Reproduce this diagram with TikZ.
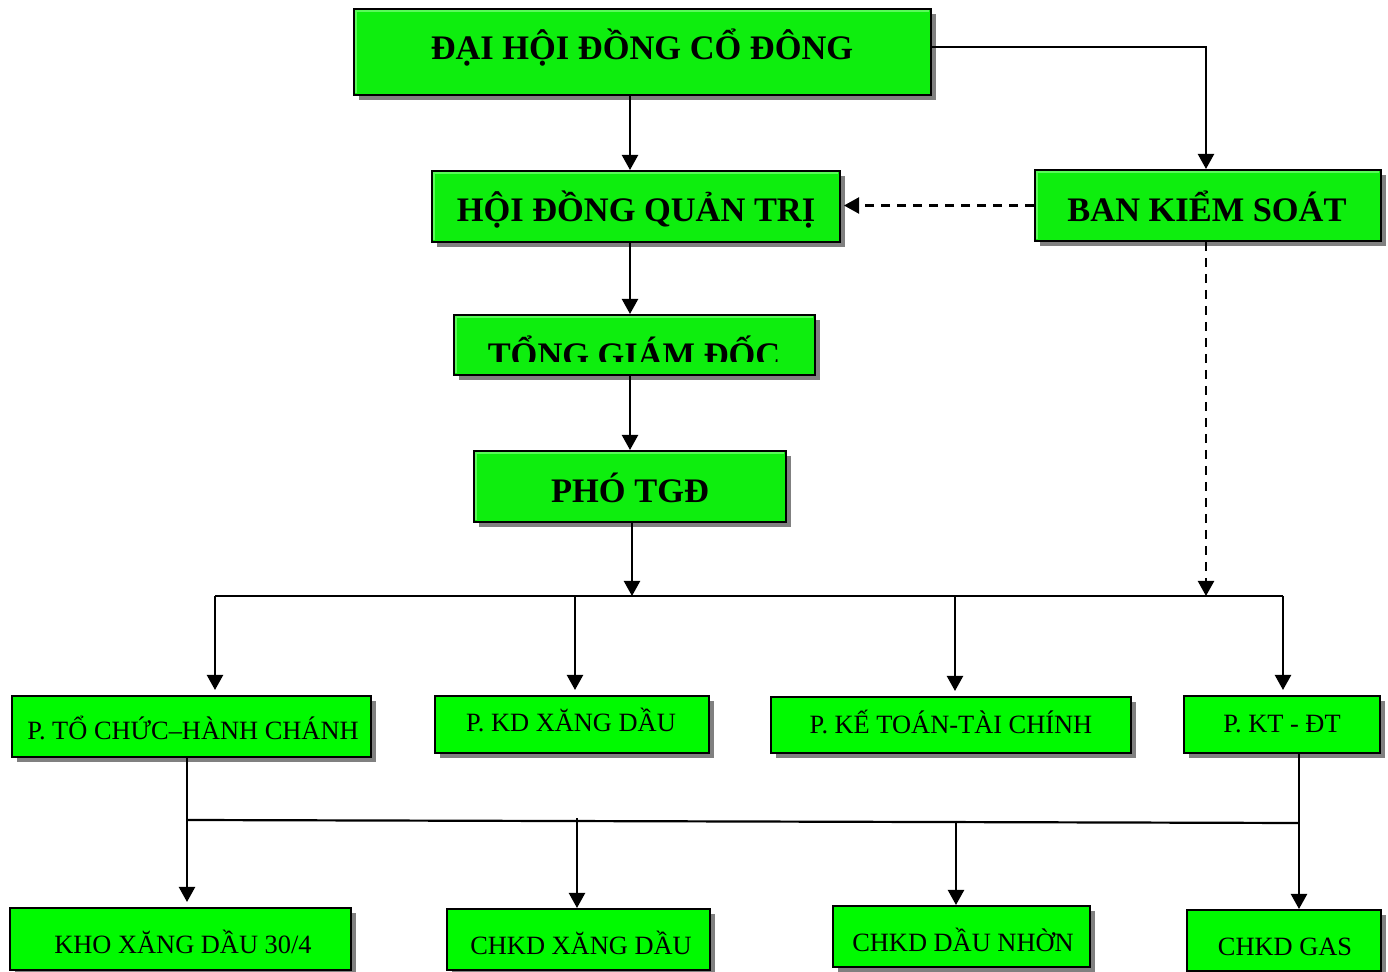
\documentclass[tikz,border=0pt]{standalone}
\usepackage{fontspec}
\setmainfont{Liberation Serif}
\usetikzlibrary{arrows.meta,shadows}
\definecolor{boxgreen}{RGB}{14,238,14}
\definecolor{boxgreenb}{RGB}{0,250,0}
\definecolor{bevel}{RGB}{90,250,90}
\definecolor{shadowgray}{RGB}{128,128,128}
\tikzset{
  box/.style={draw=black, line width=1pt, fill=boxgreen, inner sep=0pt,
    drop shadow={shadow xshift=2.6pt, shadow yshift=-2.6pt, fill=shadowgray, opacity=1}},
  boxb/.style={box, fill=boxgreenb},
  bigtxt/.style={font=\fontsize{17.2pt}{20pt}\selectfont\bfseries, anchor=base, inner sep=0pt},
  smalltxt/.style={font=\fontsize{13.2pt}{16pt}\selectfont, anchor=base, inner sep=0pt},
  conn/.style={line width=1.1pt},
  arr/.style={conn, -{Triangle[length=7.5pt,width=8pt]}},
  dashconn/.style={dash pattern=on 4.5pt off 3.5pt},
  gap/.style={shorten >=2.5pt}
}
\newcommand{\mkbox}[6]{%
  \node[#1, minimum width={#5*0.5pt}, minimum height={#6*0.5pt}] (#2) at (#3,#4) {};}
\begin{document}
\begin{tikzpicture}[x=0.5pt,y=-0.5pt]
\useasboundingbox (0,0) rectangle (1388,972);
% boxes
\mkbox{box}{dh}{642.5}{52}{577}{86}
\mkbox{box}{hq}{636}{206.5}{408}{71}
\mkbox{box}{bks}{1208}{205.5}{346}{71}
\mkbox{box}{tgd}{634.5}{345}{361}{60}
\mkbox{box}{pho}{630}{486.5}{312}{71}
\mkbox{boxb}{tc}{191.5}{726.5}{359}{61}
\mkbox{boxb}{kd}{572}{724.5}{274}{57}
\mkbox{boxb}{kt}{951}{725}{360}{56}
\mkbox{boxb}{dt}{1282}{724.5}{196}{57}
\mkbox{boxb}{kho}{180.5}{939}{341}{62}
\mkbox{boxb}{xd}{578.5}{939.5}{263}{61}
\mkbox{boxb}{dn}{961.5}{936.5}{257}{61}
\mkbox{boxb}{gas}{1284}{940.5}{194}{61}
% bevels on upper boxes
\foreach \b in {dh,hq,bks,tgd,pho}{
  \draw[bevel, line width=1pt] ([shift={(3,-3)}]\b.south west) -- ([shift={(3,3)}]\b.north west) -- ([shift={(-3,3)}]\b.north east);
}
% texts
\node[bigtxt] (t1) at (642,60) {ĐẠI HỘI ĐỒNG CỔ ĐÔNG};
\node[bigtxt] (t2) at (636,222) {HỘI ĐỒNG QUẢN TRỊ};
\node[bigtxt] (t3) at (1207,222) {BAN KIỂM SOÁT};
\begin{scope}
  \clip (456,317) rectangle (813,362);
  \node[bigtxt] (t4) at (634,367) {TỔNG GIÁM ĐỐC};
\end{scope}
\node[bigtxt] (t5) at (630,503) {PHÓ TGĐ};
\node[smalltxt] (t6) at (193,740) {P. TỔ CHỨC–HÀNH CHÁNH};
\node[smalltxt] (t7) at (571,732) {P. KD XĂNG DẦU};
\node[smalltxt] (t8) at (951,734) {P. KẾ TOÁN-TÀI CHÍNH};
\node[smalltxt] (t9) at (1282,733) {P. KT - ĐT};
\node[smalltxt] (t10) at (183,953) {KHO XĂNG DẦU 30/4};
\node[smalltxt] (t11) at (581,954) {CHKD XĂNG DẦU};
\node[smalltxt] (t12) at (963,951) {CHKD DẦU NHỜN};
\node[smalltxt] (t13) at (1285,956) {CHKD GAS};
% coordinates
\coordinate (xa) at (630,0);
\coordinate (ya) at (0,47);
\coordinate (xb) at (1206,0);
\coordinate (bp) at (632,596);
\coordinate (busL) at (215,596);
\coordinate (b2) at (575,596);
\coordinate (b3) at (955,596);
\coordinate (busR) at (1283,596);
\coordinate (l1) at (187,820);
\coordinate (m1) at (577,818.5);
\coordinate (m2) at (956,821);
\coordinate (r1) at (1299,823);
% connectors
\draw[arr] (dh.south -| xa) -- (hq.north -| xa);
\draw[arr] (dh.east |- ya) -- (xb |- ya) -- (bks.north -| xb);
\draw[arr, dashconn] (bks.west) -- ([xshift=1.5pt]hq.east |- bks.west);
\draw[arr] (hq.south -| xa) -- (tgd.north -| xa);
\draw[arr] (tgd.south -| xa) -- (pho.north -| xa);
\draw[arr] (pho.south -| bp) -- (bp);
\draw[arr, dashconn] (bks.south -| xb) -- (busL -| xb);
\draw[conn] (busL) -- (busR);
\draw[arr, gap] (busL) -- (busL |- tc.north);
\draw[arr, gap] (b2) -- (b2 |- kd.north);
\draw[arr, gap] (b3) -- (b3 |- kt.north);
\draw[arr, gap] (busR) -- (busR |- dt.north);
\draw[arr, gap] (tc.south -| l1) -- (kho.north -| l1);
\draw[conn] (l1) -- (r1);
\draw[arr] (dt.south -| r1) -- (gas.north -| r1);
\draw[arr] (m1) -- (xd.north -| m1);
\draw[arr] (m2) -- (dn.north -| m2);
\end{tikzpicture}
\end{document}
